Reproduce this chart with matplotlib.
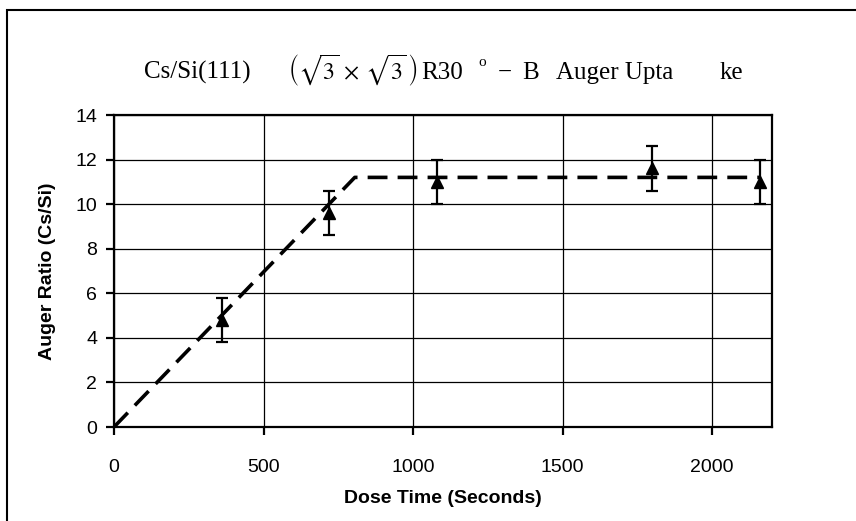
import matplotlib.pyplot as plt
import matplotlib.patches as patches

# Cs/Si(111) Auger uptake measurements
dose_time = [360, 720, 1080, 1800, 2160]
auger_ratio = [4.8, 9.6, 11.0, 11.6, 11.0]
ratio_err = [1.0, 1.0, 1.0, 1.0, 1.0]

# linear uptake followed by saturation
fit_time = [0, 805, 2160]
fit_ratio = [0, 11.2, 11.2]

x_ticks = [0, 500, 1000, 1500, 2000]
y_ticks = [0, 2, 4, 6, 8, 10, 12, 14]

W, H = 856, 521
fig = plt.figure(figsize=(W / 100, H / 100), dpi=100)
fig.patch.set_facecolor('white')

# frame around the whole chart area (runs off the right and bottom edges)
top = 1 - 10 / H
fig.patches.append(patches.Rectangle((7 / W, -0.2), 1.2, top + 0.2,
                                     transform=fig.transFigure, fill=False,
                                     edgecolor='black', linewidth=1.5))

ax = fig.add_axes([114 / W, 1 - 427 / H, (772 - 114) / W, (427 - 115) / H])

ax.plot(fit_time, fit_ratio, color='black', linewidth=2.6,
        dashes=(5.5, 2.8), zorder=3)
ax.errorbar(dose_time, auger_ratio, yerr=ratio_err, fmt='^', color='black',
            markersize=9, elinewidth=1.6, capsize=4.5, capthick=1.6, zorder=4)

ax.set_xlim(0, 2200)
ax.set_ylim(0, 14)
ax.set_xticks(x_ticks)
ax.set_yticks(y_ticks)
ax.grid(True, color='black', linewidth=0.9)
ax.set_axisbelow(True)
for s in ax.spines.values():
    s.set_linewidth(1.6)
ax.tick_params(direction='out', length=6, width=1.6, color='black')
ax.tick_params(axis='x', pad=17)
ax.tick_params(axis='y', pad=6)
for lab in ax.get_xticklabels() + ax.get_yticklabels():
    lab.set_fontfamily('Liberation Sans')
    lab.set_fontsize(14)

ax.set_xlabel('Dose Time (Seconds)', fontfamily='Liberation Sans',
              fontweight='bold', fontsize=14, labelpad=10)
ax.set_ylabel('Auger Ratio (Cs/Si)', fontfamily='Liberation Sans',
              fontweight='bold', fontsize=14, labelpad=14)

# title pieces, laid out along one baseline
plt.rcParams['mathtext.fontset'] = 'stix'
base = 1 - 79 / H
tkw = dict(fontfamily='Liberation Serif', fontsize=18, va='baseline', ha='left')
fig.text(144 / W, base, 'Cs/Si(111)', **tkw)
fig.text(288 / W, base, r'$\left(\sqrt{3}\,\times\,\sqrt{3}\,\right)$',
         fontsize=17, va='baseline', ha='left')
fig.text(421 / W, base, 'R30', **tkw)
fig.text(478 / W, 1 - 66 / H, 'o', fontfamily='Liberation Serif', fontsize=11,
         va='baseline', ha='left')
fig.text(498 / W, base, '\u2212', **tkw)
fig.text(522 / W, base, 'B', **tkw)
fig.text(556 / W, base, 'Auger Upta', **tkw)
fig.text(720 / W, base, 'ke', **tkw)

fig.savefig('out.png', dpi=100)
